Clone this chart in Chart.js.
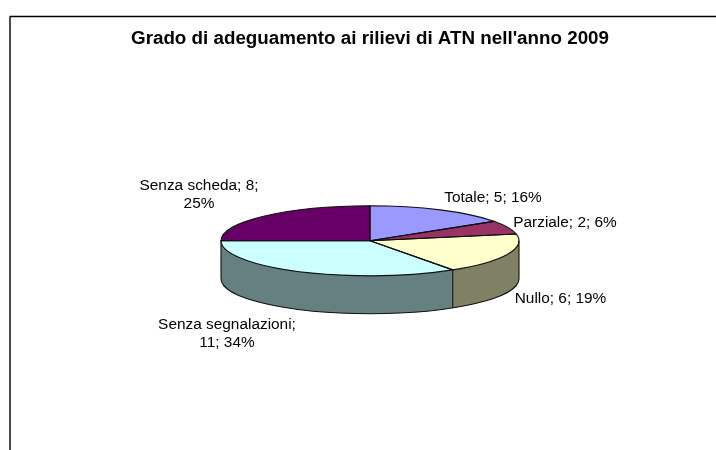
<!DOCTYPE html>
<html><head><meta charset="utf-8">
<script src="https://cdn.jsdelivr.net/npm/chart.js@4"></script>
<style>html,body{margin:0;padding:0;background:#fff}#w{position:relative;width:716px;height:450px}</style>
</head><body><div id="w"><canvas id="c" width="716" height="450"></canvas></div>
<script>
const categories = ["Totale","Parziale","Nullo","Senza segnalazioni","Senza scheda"];
const values = [5,2,6,11,8];
const percents = [16,6,19,34,25];
const topColors = ["#9999FF","#993366","#FFFFCC","#CCFFFF","#660066"];
const sideColors = ["#4D4D80","#4D1A33","#808066","#668080","#330033"];
const titleText = "Grado di adeguamento ai rilievi di ATN nell'anno 2009";
// label layout: centre x, first line baseline y, line breaks
const labelLayout = [
  {x:493,y:201.5,lines:l=>[l]},
  {x:565,y:227,lines:l=>[l]},
  {x:560.5,y:303,lines:l=>[l]},
  {x:227,y:328.5,lines:l=>{const i=l.indexOf("; ");return [l.slice(0,i+1),l.slice(i+2)]}},
  {x:199,y:189.5,lines:l=>{const i=l.lastIndexOf("; ");return [l.slice(0,i+1),l.slice(i+2)]}}
];
const SQUASH = 35/149, DEPTH = 38, LINE_H = 18.5;

const pie3d = {
  id:'pie3d',
  beforeDatasetsDraw(chart){
    const ctx = chart.ctx, arcs = chart.getDatasetMeta(0).data;
    const cy = arcs[0].y;
    const squash = (d)=>{ ctx.translate(0,cy+d); ctx.scale(1,SQUASH); ctx.translate(0,-cy); };
    // side wall: stack of the library's arcs, deepest first
    for(let d=DEPTH;d>=1;d--){
      ctx.save(); squash(d);
      arcs.forEach((a,i)=>{
        const o=a.options, bg=o.backgroundColor;
        o.backgroundColor=sideColors[i];
        a.draw(ctx);
        o.backgroundColor=bg;
      });
      ctx.restore();
    }
    ctx.save(); squash(0);
  },
  afterDatasetsDraw(chart){
    const ctx = chart.ctx; ctx.restore();
    const arcs = chart.getDatasetMeta(0).data;
    const {x:cx,y:cy,outerRadius:r} = arcs[0].getProps(['x','y','outerRadius']);
    const ry = r*SQUASH;
    ctx.save();
    ctx.strokeStyle='#111'; ctx.lineWidth=1.1; ctx.lineJoin='round';
    // wall outline
    ctx.beginPath();
    ctx.ellipse(cx,cy+DEPTH,r,ry,0,0,Math.PI);
    ctx.moveTo(cx+r,cy); ctx.lineTo(cx+r,cy+DEPTH);
    ctx.moveTo(cx-r,cy); ctx.lineTo(cx-r,cy+DEPTH);
    arcs.forEach(a=>{
      const e=a.endAngle;
      if(Math.sin(e)>0){
        const px=cx+r*Math.cos(e),py=cy+ry*Math.sin(e);
        ctx.moveTo(px,py); ctx.lineTo(px,py+DEPTH);
      }
    });
    ctx.stroke();
    // top face outline of every slice
    arcs.forEach(a=>{
      ctx.beginPath();
      ctx.moveTo(cx,cy);
      ctx.ellipse(cx,cy,r,ry,0,a.startAngle,a.endAngle);
      ctx.closePath();
      ctx.stroke();
    });
    // data labels
    ctx.fillStyle='#000'; ctx.font='15.4px "Liberation Sans"'; ctx.textAlign='center'; ctx.textBaseline='alphabetic';
    categories.forEach((c,i)=>{
      const t=`${c}; ${values[i]}; ${percents[i]}%`, L=labelLayout[i];
      L.lines(t).forEach((s,k)=>ctx.fillText(s,L.x,L.y+k*LINE_H));
    });
    // chart frame
    ctx.strokeStyle='#000'; ctx.lineWidth=1.4;
    ctx.beginPath(); ctx.moveTo(10,450); ctx.lineTo(10,16.5); ctx.lineTo(716,16.5); ctx.stroke();
    ctx.restore();
  }
};
new Chart(document.getElementById('c'),{
  type:'pie',
  data:{labels:categories,datasets:[{data:values,backgroundColor:topColors,borderWidth:0,hoverOffset:0}]},
  plugins:[pie3d],
  options:{
    responsive:false,animation:false,events:[],
    radius:149,
    layout:{padding:{left:24,right:0,top:0,bottom:18.5}},
    plugins:{
      legend:{display:false},tooltip:{enabled:false},
      title:{display:true,text:titleText,color:'#000',
        font:{family:'"Liberation Sans"',size:18.8,weight:'bold'},
        padding:{top:27.5,bottom:0},fullSize:false}
    }
  }
});
</script></body></html>
